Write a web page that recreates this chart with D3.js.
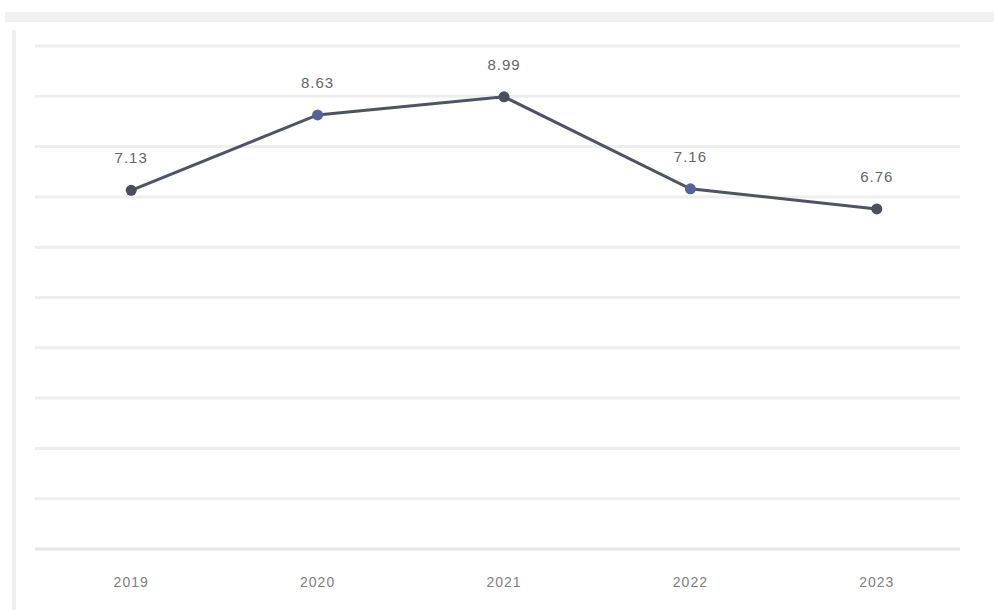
<!DOCTYPE html>
<html>
<head>
<meta charset="utf-8">
<script src="https://cdn.jsdelivr.net/npm/d3@7"></script>
<style>
  body { margin: 0; background: #fff; }
  svg { display: block; font-family: "Liberation Sans", Arial, sans-serif; }
</style>
</head>
<body>
<div id="chart"></div>
<script>
// data
const years = ['2019', '2020', '2021', '2022', '2023'];
const values = [7.13, 8.63, 8.99, 7.16, 6.76];
const gridTicks = [0, 1, 2, 3, 4, 5, 6, 7, 8, 9, 10];

const width = 994, height = 610;

const svg = d3.select('#chart').append('svg')
  .attr('width', width)
  .attr('height', height);

// frame bits round the panel
svg.append('rect').attr('x', 5).attr('y', 12).attr('width', width - 5).attr('height', 10).attr('fill', '#f1f1f1');
svg.append('rect').attr('x', 12).attr('y', 30).attr('width', 4).attr('height', height - 30).attr('fill', '#efefef');

const x = d3.scaleBand().domain(years).range([38, 970]);
const y = d3.scaleLinear().domain([0, 10]).range([549, 46]);

// grid lines
svg.append('g').selectAll('line').data(gridTicks).join('line')
  .attr('x1', 35).attr('x2', 960)
  .attr('y1', d => y(d)).attr('y2', d => y(d))
  .attr('stroke', d => d === 0 ? '#e6e6e6' : '#eeeeee')
  .attr('stroke-width', 3);

// x axis labels
const xAxis = d3.axisBottom(x).tickSize(0).tickPadding(28);
const gx = svg.append('g').attr('transform', `translate(0,${y(0)})`).call(xAxis);
gx.select('.domain').remove();
gx.selectAll('text').attr('fill', '#808080').attr('font-size', 14).attr('letter-spacing', 1);

const cx = d => x(d) + x.bandwidth() / 2;

// line
const line = d3.line()
  .x((d, i) => cx(years[i]))
  .y(d => y(d));

svg.append('path').datum(values)
  .attr('d', line)
  .attr('fill', 'none')
  .attr('stroke', '#4e5560')
  .attr('stroke-width', 3);

// points
svg.append('g').selectAll('circle').data(values).join('circle')
  .attr('cx', (d, i) => cx(years[i]))
  .attr('cy', d => y(d))
  .attr('r', 5.5)
  .attr('fill', (d, i) => i % 2 === 1 ? '#56639a' : '#4a4f5c');

// value labels
svg.append('g').selectAll('text').data(values).join('text')
  .attr('x', (d, i) => cx(years[i]))
  .attr('y', d => y(d) - 27)
  .attr('text-anchor', 'middle')
  .attr('fill', '#666')
  .attr('font-size', 15)
  .attr('letter-spacing', 1)
  .text(d => d.toFixed(2));
</script>
</body>
</html>
